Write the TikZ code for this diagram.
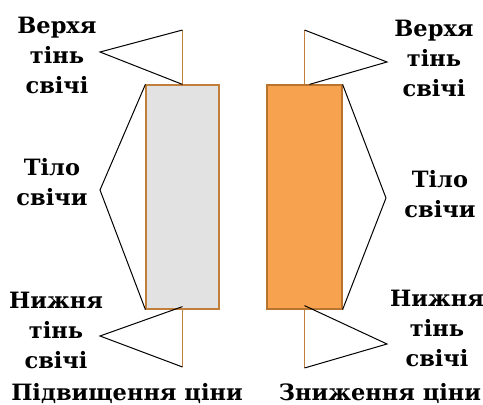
\documentclass[tikz,border=0pt]{standalone}
\usepackage{fontspec}
\setmainfont{DejaVu Serif}
\usepackage[dvipsnames,svgnames,x11names]{xcolor}
\definecolor{WickBrown}{HTML}{C0803C}
\definecolor{BodyGrey}{HTML}{E2E2E2}
\definecolor{BodyOrange}{HTML}{F6A24E}
\definecolor{EdgeBrown}{HTML}{B8742E}
\usepackage{tikz}
\usetikzlibrary{positioning}

\begin{document}
\begin{tikzpicture}[
    x=1pt,y=-1pt,
    candleup/.style={rectangle,draw=WickBrown,fill=BodyGrey,line width=1.2pt,
      minimum width=73pt,minimum height=224pt,inner sep=0pt},
    candledown/.style={rectangle,draw=EdgeBrown,fill=BodyOrange,line width=1.2pt,
      minimum width=75pt,minimum height=224pt,inner sep=0pt},
    wick/.style={draw=WickBrown,line width=1.2pt},
    brace/.style={draw=black,line width=1pt},
    lbl/.style={align=center,anchor=base,inner sep=0pt,
      font=\bfseries\fontsize{22.5}{30}\selectfont}
  ]
    \useasboundingbox (0,0) rectangle (483,405);

    % candle bodies
    \node[candleup] (bodyL) at (182.5,197) {};
    \node[candledown] (bodyR) at (304.5,197) {};

    % wick ends
    \coordinate (wickLtop) at (182.5,30);
    \coordinate (wickLbot) at (182.5,367);
    \coordinate (wickRtop) at (304.5,30);
    \coordinate (wickRbot) at (304.5,368);

    \draw[wick] (wickLtop) -- (bodyL.north);
    \draw[wick] (bodyL.south) -- (wickLbot);
    \draw[wick] (wickRtop) -- (bodyR.north);
    \draw[wick] (bodyR.south) -- (wickRbot);

    % labels (anchored on the last line)
    \node[lbl] (upL) at (57,93) {Верхя\\тінь\\свічі};
    \node[lbl] (midL) at (52,205) {Тіло\\свічи};
    \node[lbl] (lowL) at (56,368) {Нижня\\тінь\\свічі};
    \node[lbl] (upR) at (434,96) {Верхя\\тінь\\свічі};
    \node[lbl] (midR) at (440,217) {Тіло\\свічи};
    \node[lbl] (lowR) at (437,366) {Нижня\\тінь\\свічі};
    \node[lbl] (riseL) at (127,400) {Підвищення ціни};
    \node[lbl] (fallR) at (380,400) {Зниження ціни};

    % bracket tips
    \coordinate (tipUL) at (100,52);
    \coordinate (tipML) at (100,190);
    \coordinate (tipLL) at (100,336);
    \coordinate (tipUR) at (387,62);
    \coordinate (tipMR) at (386,198);
    \coordinate (tipLR) at (387,344);

    \draw[brace] (wickLtop) -- (tipUL) -- (bodyL.north);
    \draw[brace] (bodyL.north west) -- (tipML) -- (bodyL.south west);
    \draw[brace] ([yshift=3pt]bodyL.south) -- (tipLL) -- (wickLbot);
    \draw[brace] (wickRtop) -- (tipUR) -- ([xshift=5pt]bodyR.north);
    \draw[brace] (bodyR.north east) -- (tipMR) -- (bodyR.south east);
    \draw[brace] ([yshift=4pt]bodyR.south) -- (tipLR) -- (wickRbot);
  \end{tikzpicture}
\end{document}
